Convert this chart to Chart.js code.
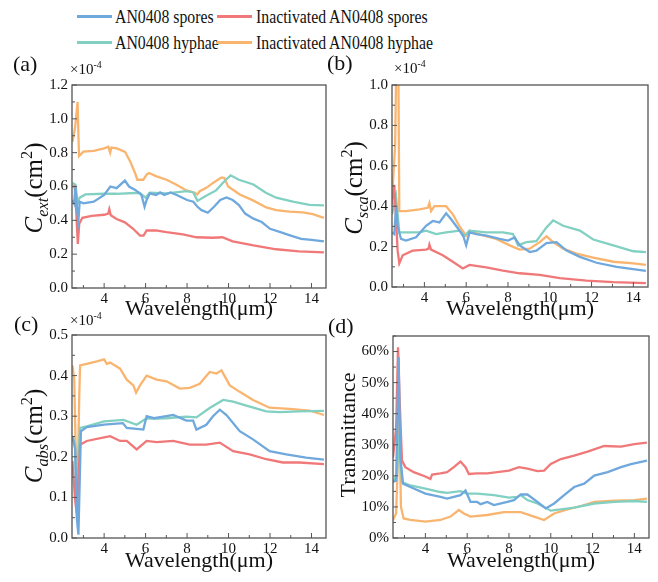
<!DOCTYPE html>
<html>
<head>
<meta charset="utf-8">
<script src="https://cdn.jsdelivr.net/npm/chart.js@4.4.1/dist/chart.umd.min.js"></script>
<style>
  body { margin: 0; background: #fff; }
  #wrap { position: relative; width: 658px; height: 582px; font-family: "Liberation Serif", "Times New Roman", serif; color: #111; }
  canvas { position: absolute; }
  .leg { position: absolute; font-size: 19px; line-height: 19px; transform: scaleX(0.83); transform-origin: left center; white-space: nowrap; }
  .legline { position: absolute; width: 35px; height: 3px; }
  .ytitle { position: absolute; white-space: nowrap; transform: translate(-50%, -50%) rotate(-90deg); font-size: 25px; line-height: 25px; }
  .xtitle { position: absolute; font-size: 22px; line-height: 22px; transform: translateX(-50%); white-space: nowrap; }
  .plabel { position: absolute; font-size: 22px; line-height: 22px; }
  .mult { position: absolute; font-size: 15px; line-height: 15px; }
  sub, sup { font-size: 65%; line-height: 0; }
</style>
</head>
<body>
<div id="wrap">
  <div class="legline" style="left:77px;top:15px;background:#6fa8dc"></div>
  <div class="leg" style="left:115px;top:7px">AN0408 spores</div>
  <div class="legline" style="left:217px;top:15px;background:#f07878"></div>
  <div class="leg" style="left:256px;top:7px">Inactivated AN0408 spores</div>
  <div class="legline" style="left:77px;top:41px;background:#82d0c2"></div>
  <div class="leg" style="left:115px;top:33px">AN0408 hyphae</div>
  <div class="legline" style="left:217px;top:41px;background:#f9b56f"></div>
  <div class="leg" style="left:256px;top:33px">Inactivated AN0408 hyphae</div>

  <canvas id="chartA"></canvas>
  <canvas id="chartB"></canvas>
  <canvas id="chartC"></canvas>
  <canvas id="chartD"></canvas>

  <div class="plabel" style="left:13px;top:53px">(a)</div>
  <div class="plabel" style="left:327px;top:52px">(b)</div>
  <div class="plabel" style="left:14px;top:313px">(c)</div>
  <div class="plabel" style="left:328px;top:315px">(d)</div>

  <div class="mult" style="left:70px;top:62px">×10<sup>-4</sup></div>
  <div class="mult" style="left:394px;top:61px">×10<sup>-4</sup></div>
  <div class="mult" style="left:70px;top:313px">×10<sup>-4</sup></div>

  <div class="ytitle" style="left:33px;top:188px"><i>C</i><sub><i>ext</i></sub>(cm<sup>2</sup>)</div>
  <div class="ytitle" style="left:353px;top:188px"><i>C</i><sub><i>sca</i></sub>(cm<sup>2</sup>)</div>
  <div class="ytitle" style="left:33px;top:436px"><i>C</i><sub><i>abs</i></sub>(cm<sup>2</sup>)</div>
  <div class="ytitle" style="left:348px;top:435px;font-size:22px;line-height:22px">Transmittance</div>

  <div class="xtitle" style="left:199px;top:297px">Wavelength(μm)</div>
  <div class="xtitle" style="left:520px;top:297px">Wavelength(μm)</div>
  <div class="xtitle" style="left:199px;top:549px">Wavelength(μm)</div>
  <div class="xtitle" style="left:521px;top:549px">Wavelength(μm)</div>
</div>

<script>
const seriesNames = ["AN0408 spores", "Inactivated AN0408 spores", "AN0408 hyphae", "Inactivated AN0408 hyphae"];
const seriesColors = ["#6fa8dc", "#f07878", "#82d0c2", "#f9b56f"];

const xTicks = [4, 6, 8, 10, 12, 14];

// (a) extinction cross section, x1e-4 cm^2
const extSpores = [[2.47,0.52],[2.55,0.5],[2.62,0.6],[2.7,0.45],[2.76,0.4],[2.82,0.51],[3.0,0.5],[3.5,0.51],[4.0,0.55],[4.3,0.6],[4.6,0.59],[5.0,0.635],[5.2,0.6],[5.5,0.58],[5.8,0.55],[5.95,0.48],[6.05,0.52],[6.2,0.56],[6.5,0.55],[6.7,0.565],[6.9,0.55],[7.2,0.565],[7.5,0.55],[8.0,0.52],[8.3,0.51],[8.5,0.48],[8.7,0.46],[9.0,0.445],[9.3,0.48],[9.6,0.52],[9.9,0.535],[10.2,0.52],[10.5,0.49],[10.8,0.44],[11.2,0.41],[11.6,0.39],[12.0,0.35],[12.5,0.33],[13.0,0.31],[13.5,0.29],[14.0,0.285],[14.6,0.275]];
const extInSpores = [[2.47,0.6],[2.58,0.6],[2.66,0.44],[2.73,0.26],[2.8,0.38],[2.95,0.415],[3.4,0.427],[4.0,0.433],[4.2,0.44],[4.25,0.466],[4.32,0.43],[4.6,0.408],[5.0,0.388],[5.4,0.35],[5.73,0.31],[5.9,0.31],[6.05,0.34],[6.5,0.34],[7.0,0.33],[7.8,0.317],[8.45,0.3],[9.25,0.297],[9.7,0.3],[10.2,0.276],[11.2,0.252],[12.3,0.229],[13.4,0.217],[14.6,0.21]];
const extHyphae = [[2.47,0.62],[2.62,0.61],[2.72,0.5],[2.82,0.534],[3.1,0.553],[4.0,0.557],[4.6,0.557],[5.7,0.563],[6.0,0.534],[6.2,0.563],[7.0,0.559],[8.0,0.573],[8.3,0.565],[8.5,0.515],[8.9,0.544],[9.4,0.577],[9.8,0.631],[10.1,0.666],[10.5,0.64],[11.2,0.612],[11.8,0.563],[12.3,0.534],[13.1,0.51],[13.9,0.491],[14.6,0.489]];
const extInHyphae = [[2.47,0.864],[2.6,0.95],[2.68,1.05],[2.72,1.1],[2.76,0.9],[2.79,0.78],[3.0,0.806],[3.5,0.81],[4.0,0.825],[4.2,0.835],[4.29,0.8],[4.35,0.83],[4.61,0.825],[5.01,0.805],[5.25,0.75],[5.49,0.68],[5.6,0.64],[5.89,0.64],[6.05,0.67],[6.16,0.68],[6.53,0.66],[7.01,0.64],[7.49,0.61],[7.97,0.577],[8.37,0.563],[8.49,0.553],[8.61,0.572],[8.93,0.592],[9.25,0.621],[9.66,0.654],[9.8,0.65],[9.98,0.6],[10.54,0.553],[11.18,0.518],[11.82,0.476],[12.3,0.46],[12.94,0.452],[13.58,0.447],[14.06,0.437],[14.6,0.415]];
const extTicks = [0, 0.2, 0.4, 0.6, 0.8, 1.0, 1.2];

// (b) scattering cross section
const scaSpores = [[2.45,0.27],[2.56,0.262],[2.65,0.4],[2.72,0.3],[2.88,0.238],[3.12,0.23],[3.6,0.246],[4.08,0.303],[4.4,0.327],[4.72,0.32],[5.04,0.365],[5.28,0.335],[5.68,0.28],[5.87,0.25],[6.0,0.206],[6.16,0.27],[6.48,0.262],[6.96,0.254],[7.6,0.238],[8.0,0.23],[8.32,0.245],[8.56,0.206],[9.04,0.173],[9.36,0.18],[9.84,0.217],[10.32,0.222],[10.8,0.18],[11.44,0.149],[12.24,0.12],[13.2,0.1],[14.6,0.08]];
const scaInSpores = [[2.45,0.41],[2.56,0.506],[2.66,0.3],[2.72,0.18],[2.8,0.117],[2.96,0.157],[3.44,0.18],[4.08,0.185],[4.2,0.19],[4.24,0.21],[4.32,0.185],[4.88,0.157],[5.36,0.125],[5.84,0.092],[6.16,0.109],[6.96,0.097],[7.76,0.081],[8.56,0.068],[9.52,0.06],[10.48,0.044],[11.76,0.032],[13.04,0.024],[14.6,0.019]];
const scaHyphae = [[2.45,0.36],[2.64,0.449],[2.8,0.27],[3.12,0.27],[3.76,0.27],[4.08,0.279],[4.56,0.262],[5.04,0.27],[5.68,0.279],[5.92,0.254],[6.16,0.279],[6.96,0.27],[7.76,0.27],[8.24,0.262],[8.48,0.206],[8.88,0.222],[9.36,0.227],[9.84,0.295],[10.16,0.33],[10.64,0.303],[11.44,0.279],[12.08,0.235],[13.04,0.206],[14.0,0.177],[14.6,0.173]];
const scaInHyphae = [[2.45,0.44],[2.6,0.7],[2.66,1.15],[2.75,1.15],[2.8,0.376],[3.12,0.376],[3.76,0.384],[4.16,0.392],[4.24,0.416],[4.32,0.376],[4.48,0.4],[5.04,0.4],[5.36,0.36],[5.68,0.3],[6.0,0.254],[6.16,0.279],[6.64,0.26],[7.44,0.238],[8.08,0.206],[8.56,0.185],[9.04,0.19],[9.52,0.222],[9.84,0.251],[10.16,0.222],[10.64,0.19],[11.28,0.165],[12.08,0.146],[13.04,0.125],[14.0,0.117],[14.6,0.109]];
const scaTicks = [0, 0.2, 0.4, 0.6, 0.8, 1.0];

// (c) absorption cross section
const absSpores = [[2.47,0.25],[2.6,0.22],[2.68,0.05],[2.76,0.008],[2.88,0.263],[3.16,0.273],[4.0,0.279],[4.9,0.283],[5.09,0.271],[5.89,0.267],[6.05,0.3],[6.4,0.295],[7.0,0.3],[7.33,0.303],[7.97,0.289],[8.29,0.289],[8.45,0.267],[8.93,0.279],[9.25,0.3],[9.58,0.316],[9.9,0.303],[10.54,0.263],[11.18,0.243],[11.98,0.214],[12.78,0.206],[13.74,0.198],[14.6,0.193]];
const absInSpores = [[2.47,0.19],[2.6,0.093],[2.68,0.061],[2.84,0.23],[3.16,0.239],[4.0,0.248],[4.29,0.251],[4.77,0.239],[5.09,0.239],[5.57,0.218],[6.05,0.239],[6.53,0.236],[7.33,0.239],[8.13,0.23],[8.93,0.23],[9.58,0.235],[10.22,0.214],[11.02,0.206],[11.82,0.194],[12.62,0.186],[13.42,0.186],[14.6,0.182]];
const absHyphae = [[2.47,0.25],[2.6,0.23],[2.68,0.1],[2.84,0.271],[3.16,0.275],[4.0,0.287],[4.93,0.291],[5.57,0.279],[6.05,0.295],[6.53,0.294],[7.0,0.295],[7.97,0.299],[8.45,0.297],[9.09,0.32],[9.74,0.34],[10.22,0.336],[10.86,0.326],[11.82,0.312],[12.46,0.31],[13.4,0.312],[14.6,0.313]];
const absInHyphae = [[2.47,0.425],[2.56,0.39],[2.65,0.16],[2.72,0.13],[2.8,0.35],[2.84,0.425],[3.16,0.429],[3.65,0.435],[4.0,0.44],[4.13,0.429],[4.29,0.432],[4.77,0.417],[5.09,0.39],[5.41,0.376],[5.54,0.358],[5.73,0.376],[6.05,0.4],[6.53,0.39],[7.01,0.386],[7.65,0.368],[8.13,0.37],[8.61,0.38],[9.09,0.409],[9.42,0.405],[9.66,0.413],[10.06,0.376],[10.54,0.36],[11.18,0.34],[11.98,0.321],[12.94,0.318],[13.9,0.314],[14.6,0.303]];
const absTicks = [0, 0.1, 0.2, 0.3, 0.4, 0.5];

// (d) transmittance, %
const trSpores = [[2.45,18],[2.6,18.5],[2.72,58.2],[2.8,25.9],[2.93,17.5],[3.28,16.4],[4.0,14.3],[4.72,13.2],[5.04,12.7],[5.68,13.8],[5.92,15.3],[6.16,11.6],[6.48,11.6],[6.64,10.9],[6.96,11.6],[7.28,10.6],[7.92,11.6],[8.24,12.2],[8.56,14.0],[8.88,14.0],[9.36,11.6],[9.76,9.5],[10.16,11.1],[10.64,13.8],[11.12,16.4],[11.6,17.5],[12.08,20.1],[12.72,21.2],[13.36,22.8],[13.84,23.8],[14.6,24.9]];
const trInSpores = [[2.45,25.9],[2.6,35.4],[2.69,61.4],[2.77,43.9],[2.88,24.9],[3.04,22.8],[3.44,21.2],[4.0,19.8],[4.24,19.0],[4.32,20.4],[4.72,20.8],[5.04,21.2],[5.36,22.8],[5.68,24.6],[5.92,22.8],[6.08,20.6],[6.48,20.8],[6.96,20.8],[7.44,21.2],[8.0,21.7],[8.48,22.8],[8.88,22.3],[9.36,21.5],[9.68,21.7],[10.0,23.8],[10.48,25.4],[11.12,26.5],[11.76,27.8],[12.56,29.6],[13.36,29.4],[14.0,30.2],[14.6,30.7]];
const trHyphae = [[2.45,18],[2.64,20.6],[2.74,33.3],[2.88,18],[3.28,16.9],[4.0,15.9],[4.72,14.8],[5.04,14.5],[5.68,15.1],[6.0,14.3],[6.48,14.3],[7.28,13.8],[8.0,13.0],[8.4,13.2],[8.56,13.8],[8.88,12.2],[9.36,11.1],[10.0,8.8],[10.48,9.2],[11.12,9.8],[12.08,11.1],[13.04,11.6],[14.0,11.9],[14.6,11.6]];
const trInHyphae = [[2.45,5.8],[2.6,7.9],[2.75,39.2],[2.83,10],[2.96,6.3],[3.28,5.8],[4.0,5.3],[4.72,5.8],[5.2,6.9],[5.6,9.0],[5.84,7.9],[6.16,6.9],[6.96,7.4],[7.76,8.3],[8.56,8.3],[9.2,6.9],[9.68,5.8],[10.16,7.9],[10.8,9.2],[11.44,10.3],[12.08,11.6],[13.04,12.0],[14.0,12.2],[14.6,12.7]];
const trTicks = [0, 10, 20, 30, 40, 50, 60];

// inward major/minor ticks and the box around each plot
const frameTicks = {
  id: "frameTicks",
  afterDatasetsDraw(chart) {
    const { ctx, chartArea: a, scales } = chart;
    const x = scales.x, y = scales.y;
    ctx.save();
    ctx.strokeStyle = "#555";
    ctx.lineWidth = 1.3;
    ctx.strokeRect(a.left, a.top, a.right - a.left, a.bottom - a.top);
    ctx.lineWidth = 1;
    ctx.beginPath();
    const xv = x.ticks.map(t => t.value);
    const yv = y.ticks.map(t => t.value);
    const minors = (vals, lo, hi) => {
      const out = [];
      const step = vals[1] - vals[0];
      for (let v = vals[0] - step / 2; v <= hi + 1e-9; v += step) {
        if (v >= lo - 1e-9) out.push(v);
      }
      return out;
    };
    xv.forEach(v => { const p = x.getPixelForValue(v); ctx.moveTo(p, a.bottom); ctx.lineTo(p, a.bottom - 5); });
    minors(xv, x.min, x.max).forEach(v => { const p = x.getPixelForValue(v); ctx.moveTo(p, a.bottom); ctx.lineTo(p, a.bottom - 3); });
    yv.forEach(v => { const p = y.getPixelForValue(v); ctx.moveTo(a.left, p); ctx.lineTo(a.left + 5, p); });
    minors(yv, y.min, y.max).forEach(v => { const p = y.getPixelForValue(v); ctx.moveTo(a.left, p); ctx.lineTo(a.left + 3, p); });
    ctx.stroke();
    ctx.restore();
  }
};

function makePanel(id, box, series, yMax, yTicks, fmt) {
  const el = document.getElementById(id);
  const axisW = 40, axisH = 22, padTop = 10, padRight = 8;
  el.style.left = (box.left - axisW) + "px";
  el.style.top = (box.top - padTop) + "px";
  el.width = box.right - box.left + axisW + padRight;
  el.height = box.bottom - box.top + padTop + axisH;
  el.style.width = el.width + "px";
  el.style.height = el.height + "px";

  new Chart(el, {
    type: "line",
    data: {
      datasets: series.map((d, i) => ({
        label: seriesNames[i],
        data: d.map(p => ({ x: p[0], y: p[1] })),
        borderColor: seriesColors[i],
        borderWidth: 2.3,
        pointRadius: 0,
        tension: 0,
        fill: false
      }))
    },
    options: {
      responsive: false,
      animation: false,
      layout: { padding: { top: padTop, right: padRight, left: 0, bottom: 0 } },
      plugins: { legend: { display: false }, tooltip: { enabled: false } },
      scales: {
        x: {
          type: "linear",
          min: 2.45,
          max: 14.7,
          grid: { display: false, drawTicks: false },
          border: { display: false },
          afterBuildTicks: s => { s.ticks = xTicks.map(v => ({ value: v })); },
          afterFit: s => { s.height = axisH; },
          ticks: { color: "#111", padding: 2, maxRotation: 0, font: { family: "Liberation Serif", size: 15 } }
        },
        y: {
          min: 0,
          max: yMax,
          grid: { display: false, drawTicks: false },
          border: { display: false },
          afterBuildTicks: s => { s.ticks = yTicks.map(v => ({ value: v })); },
          afterFit: s => { s.width = axisW; },
          ticks: { color: "#111", padding: 4, font: { family: "Liberation Serif", size: 15 }, callback: fmt }
        }
      }
    },
    plugins: [frameTicks]
  });
}

const oneDec = v => v.toFixed(1);
const pct = v => v + "%";

makePanel("chartA", { left: 72, top: 82, right: 326, bottom: 288 }, [extSpores, extInSpores, extHyphae, extInHyphae], 1.2, extTicks, oneDec);
makePanel("chartB", { left: 392, top: 82, right: 648, bottom: 287 }, [scaSpores, scaInSpores, scaHyphae, scaInHyphae], 1.0, scaTicks, oneDec);
makePanel("chartC", { left: 72, top: 332, right: 326, bottom: 538 }, [absSpores, absInSpores, absHyphae, absInHyphae], 0.5, absTicks, oneDec);
makePanel("chartD", { left: 393, top: 333, right: 649, bottom: 538 }, [trSpores, trInSpores, trHyphae, trInHyphae], 65, trTicks, pct);
</script>
</body>
</html>
